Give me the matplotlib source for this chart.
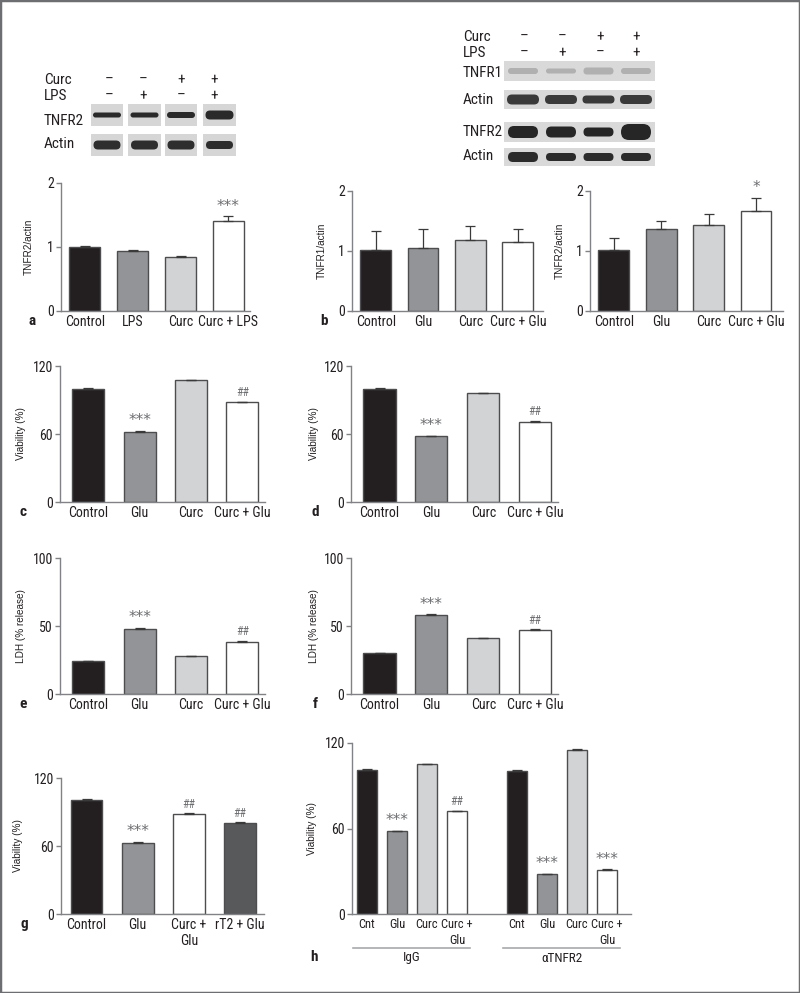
import matplotlib
matplotlib.use('Agg')
import matplotlib.pyplot as plt
from matplotlib import font_manager
from matplotlib.patches import Rectangle, FancyBboxPatch
from matplotlib.transforms import blended_transform_factory
import numpy as np

_names = {f.name for f in font_manager.fontManager.ttflist}
if 'Liberation Sans Narrow' in _names:
    MAIN, FS, FSH = 'Liberation Sans Narrow', 9.5, 9
elif 'Roboto Condensed' in _names:
    MAIN, FS, FSH = 'Roboto Condensed', 10, 9
else:
    MAIN, FS, FSH = 'Liberation Sans', 8.5, 8
plt.rcParams['font.family'] = [MAIN, 'DejaVu Sans']

W, H = 800, 993

# ---------------- data ----------------
cats_lps = ['Control', 'LPS', 'Curc', 'Curc + LPS']
tnfr2_lps = [1.00, 0.93, 0.85, 1.41]
tnfr2_lps_err = [0.02, 0.03, 0.01, 0.07]
sig_lps = ['', '', '', '***']

cats_glu = ['Control', 'Glu', 'Curc', 'Curc + Glu']
tnfr1_glu = [1.01, 1.05, 1.19, 1.15]
tnfr1_glu_err = [0.33, 0.32, 0.22, 0.21]
tnfr2_glu = [1.01, 1.37, 1.44, 1.67]
tnfr2_glu_err = [0.20, 0.13, 0.18, 0.22]
sig_tnfr2_glu = ['', '', '', '*']

viab_c = [100, 62, 108, 88]
viab_c_err = [0.8, 0.6, 0.0, 0.0]
sig_c = ['', '***', '', '##']
viab_d = [100, 58, 96, 71]
viab_d_err = [0.6, 0.6, 0.5, 0.6]
sig_d = ['', '***', '', '##']
ldh_e = [24, 48, 28, 38.5]
ldh_e_err = [0.0, 0.5, 0.0, 0.5]
sig_e = ['', '***', '', '##']
ldh_f = [30.5, 58, 41, 47]
ldh_f_err = [0.0, 0.6, 0.0, 0.5]
sig_f = ['', '***', '', '##']

cats_g = ['Control', 'Glu', 'Curc +\nGlu', 'rT2 + Glu']
viab_g = [101, 63, 88, 80]
viab_g_err = [0.5, 0.5, 0.8, 0.8]
sig_g = ['', '***', '##', '##']

cats_h = ['Cnt', 'Glu', 'Curc', 'Curc +\nGlu']
groups_h = ['IgG', '\u03b1TNFR2']
viab_h_igg = [101, 58, 105, 72]
viab_h_igg_err = [0.5, 0.4, 0.5, 0.3]
viab_h_anti = [100.5, 28, 115, 31]
viab_h_anti_err = [0.8, 0.3, 0.5, 0.3]
sig_h_igg = ['', '***', '', '##']
sig_h_anti = ['', '***', '', '***']

blot_curc = ['\u2013', '\u2013', '+', '+']
blot_lps = ['\u2013', '+', '\u2013', '+']
# band thickness (px) per lane
band_a_tnfr2 = [5, 5, 6, 9]
band_a_actin = [9, 9, 9, 8]
band_b_tnfr1 = [6, 5, 7, 6]
band_b_actin1 = [10, 9, 8, 9]
band_b_tnfr2 = [12, 11, 9, 16]
band_b_actin2 = [10, 8, 8, 8]

FILL4 = ['#231f20', '#929497', '#d1d3d4', '#ffffff']
FILL_G = ['#231f20', '#929497', '#ffffff', '#58595b']
EDGE = '#4d4d4f'
SPINE = '#808285'
TXT = '#231f20'
SIG = '#6d6e71'

fig = plt.figure(figsize=(W / 100, H / 100), dpi=100)

# background overlay in pixel coords (for blots)
bg = fig.add_axes([0, 0, 1, 1], zorder=-1)
bg.set_xlim(0, W)
bg.set_ylim(H, 0)
bg.axis('off')


def make_ax(left, top, right, bottom):
    return fig.add_axes([left / W, 1 - bottom / H, (right - left) / W, (bottom - top) / H])


def style(ax, ymax, ticks, xlim, ylabel, label_x_px, left_px, right_px, xfs=FS):
    ax.set_ylim(0, ymax)
    ax.set_xlim(*xlim)
    ax.set_yticks(ticks)
    ax.set_yticklabels([str(t) for t in ticks])
    for s in ['top', 'right']:
        ax.spines[s].set_visible(False)
    for s in ['left', 'bottom']:
        ax.spines[s].set_color(SPINE)
        ax.spines[s].set_linewidth(1.0)
    ax.tick_params(axis='y', direction='out', length=3.5, width=1.0, color=SPINE,
                   labelsize=FS, labelcolor=TXT, pad=1.5)
    ax.tick_params(axis='x', length=0, labelsize=xfs, labelcolor=TXT, pad=3.0)
    ax.set_ylabel(ylabel, fontsize=7.2, family=['Liberation Sans', 'DejaVu Sans'], color=TXT)
    ax.yaxis.set_label_coords((label_x_px - left_px) / (right_px - left_px), 0.5)
    ax.patch.set_alpha(0)


def bars(ax, x, vals, errs, colors, width, sigs, sig_off=2):
    ax.bar(x, vals, width, color=colors, edgecolor=EDGE, linewidth=1.0, zorder=2)
    ax.errorbar(x, vals, yerr=[np.zeros(len(errs)), errs], fmt='none', ecolor='#3a3a3a',
                elinewidth=0.9, capsize=3.5, capthick=0.9, zorder=3)
    for xi, v, e, s in zip(x, vals, errs, sigs):
        if s:
            fs = 11 if '*' in s else 8.5
            ax.annotate(s, (xi, v + e), xytext=(0, sig_off), textcoords='offset points',
                        ha='center', va='bottom', fontsize=fs, color=SIG,
                        family=['DejaVu Sans'] if '*' in s else None)


def panel_letter(x, y, s):
    fig.text(x / W, 1 - y / H, s, fontsize=11, fontweight='bold', ha='center', va='center', color=TXT)


x4 = np.arange(4)

# ---------------- panel a ----------------
ax = make_ax(61, 183, 250, 311)
bars(ax, x4, tnfr2_lps, tnfr2_lps_err, FILL4, 0.65, sig_lps)
ax.set_xticks(x4)
ax.set_xticklabels(cats_lps)
style(ax, 2, [0, 1, 2], (-0.5, 3.45), 'TNFR2/actin', 34, 61, 250)
panel_letter(32, 321, 'a')

# ---------------- panel b (TNFR1) ----------------
ax = make_ax(352, 191, 543, 311)
bars(ax, x4, tnfr1_glu, tnfr1_glu_err, FILL4, 0.65, ['', '', '', ''])
ax.set_xticks(x4)
ax.set_xticklabels(cats_glu)
style(ax, 2, [0, 1, 2], (-0.5, 3.53), 'TNFR1/actin', 327, 352, 543)
panel_letter(324, 321, 'b')

# ---------------- panel b (TNFR2) ----------------
ax = make_ax(590, 191, 783, 311)
bars(ax, x4, tnfr2_glu, tnfr2_glu_err, FILL4, 0.65, sig_tnfr2_glu)
ax.set_xticks(x4)
ax.set_xticklabels(cats_glu)
style(ax, 2, [0, 1, 2], (-0.5, 3.57), 'TNFR2/actin', 565, 590, 783)

# ---------------- panels c-f ----------------
specs = [
    (60, 366, 265, 502, viab_c, viab_c_err, sig_c, 120, [0, 60, 120], 'Viability (%)', 26, 'c', 23, 512),
    (351, 366, 558, 502, viab_d, viab_d_err, sig_d, 120, [0, 60, 120], 'Viability (%)', 319, 'd', 315, 512),
    (60, 558, 265, 694, ldh_e, ldh_e_err, sig_e, 100, [0, 50, 100], 'LDH (% release)', 26, 'e', 23, 704),
    (351, 558, 558, 694, ldh_f, ldh_f_err, sig_f, 100, [0, 50, 100], 'LDH (% release)', 319, 'f', 315, 704),
]
for (l, t, r, b, vals, errs, sigs, ymax, ticks, ylab, lx, letter, px, py) in specs:
    ax = make_ax(l, t, r, b)
    bars(ax, x4, vals, errs, FILL4, 0.62, sigs)
    ax.set_xticks(x4)
    ax.set_xticklabels(cats_glu)
    style(ax, ymax, ticks, (-0.55, 3.44), ylab, lx, l, r)
    panel_letter(px, py, letter)

# ---------------- panel g ----------------
ax = make_ax(61, 778, 264, 914)
bars(ax, x4, viab_g, viab_g_err, FILL_G, 0.62, sig_g)
ax.set_xticks(x4)
ax.set_xticklabels(cats_g, linespacing=1.2)
style(ax, 120, [0, 60, 120], (-0.5, 3.47), 'Viability (%)', 23, 61, 264)
panel_letter(24, 924, 'g')

# ---------------- panel h ----------------
ax = make_ax(352, 743, 631, 914)
xh1 = np.arange(4)
xh2 = np.arange(4) + 5
bars(ax, xh1, viab_h_igg, viab_h_igg_err, FILL4, 0.67, sig_h_igg)
bars(ax, xh2, viab_h_anti, viab_h_anti_err, FILL4, 0.67, sig_h_anti)
ax.set_xticks(np.concatenate([xh1, xh2]))
ax.set_xticklabels(cats_h + cats_h, linespacing=1.25)
style(ax, 120, [0, 60, 120], (-0.5, 8.8), 'Viability (%)', 317, 352, 631, xfs=FSH)
tr = blended_transform_factory(ax.transData, fig.transFigure)
for xs, g in [(xh1, groups_h[0]), (xh2, groups_h[1])]:
    ax.plot([xs[0] - 0.47, xs[-1] + 0.43], [1 - 948 / H] * 2, color='#a7a9ac', lw=1.2,
            transform=tr, clip_on=False)
    ax.text((xs[0] + xs[-1]) / 2, 1 - 958 / H, g, transform=tr, ha='center', va='center',
            fontsize=FSH + 0.5, color=TXT)
panel_letter(314, 957, 'h')

# ---------------- blots ----------------
def blot_row(x0, x1, y0, y1, centers, thick, lane_w, band_color, split=False, gap=4):
    if split:
        n = len(centers)
        for c in centers:
            half = (x1 - x0) / n / 2 - gap / 2
            bg.add_patch(Rectangle((c - half, y0), 2 * half, y1 - y0, facecolor='#d6d6d6',
                                   edgecolor='none'))
    else:
        bg.add_patch(Rectangle((x0, y0), x1 - x0, y1 - y0, facecolor='#d9d9d9', edgecolor='none'))
    yc = (y0 + y1) / 2
    for c, th in zip(centers, thick):
        bg.add_patch(FancyBboxPatch((c - lane_w / 2, yc - th / 2), lane_w, th,
                                    boxstyle='round,pad=0,rounding_size=%f' % (th / 2),
                                    facecolor=band_color, edgecolor='none'))


def blot_text(x, y, s, size=FS + 1, ha='left'):
    bg.text(x, y, s, fontsize=size, ha=ha, va='center', color=TXT)


# left blot (panel a)
lanes_a = [107, 144.5, 181, 219.5]
blot_text(44, 80, 'Curc')
blot_text(44, 96, 'LPS')
for c, s1, s2 in zip([109, 143, 181, 214], blot_curc, blot_lps):
    blot_text(c, 80, s1, ha='center')
    blot_text(c, 96, s2, ha='center')
blot_text(44, 121, 'TNFR2')
blot_text(44, 144, 'Actin')
blot_row(90, 237, 104, 126, lanes_a, band_a_tnfr2, 28, '#2a2a2a', split=True)
blot_row(90, 237, 134, 156, lanes_a, band_a_actin, 27, '#2e2e2e', split=True)

# right blot (panel b)
lanes_b = [523, 561, 598.5, 636]
blot_text(463, 37, 'Curc')
blot_text(463, 53, 'LPS')
for c, s1, s2 in zip([524, 562, 600, 636], blot_curc, blot_lps):
    blot_text(c, 37, s1, ha='center')
    blot_text(c, 53, s2, ha='center')
blot_text(463, 73, 'TNFR1')
blot_text(463, 100, 'Actin')
blot_text(463, 132, 'TNFR2')
blot_text(463, 156, 'Actin')
blot_row(504, 655, 61, 81, lanes_b, band_b_tnfr1, 30, '#b0b0b0')
blot_row(504, 655, 90, 109, lanes_b, band_b_actin1, 32, '#3a3a3a')
blot_row(504, 655, 122, 142, lanes_b, band_b_tnfr2, 30, '#262626')
blot_row(504, 655, 148, 166, lanes_b, band_b_actin2, 30, '#2b2b2b')

# frame
fig.add_artist(Rectangle((0, 0), 1, 1, transform=fig.transFigure, fill=False,
                         edgecolor='#6d6e71', lw=2.5))

fig.savefig('out.png', dpi=100)
